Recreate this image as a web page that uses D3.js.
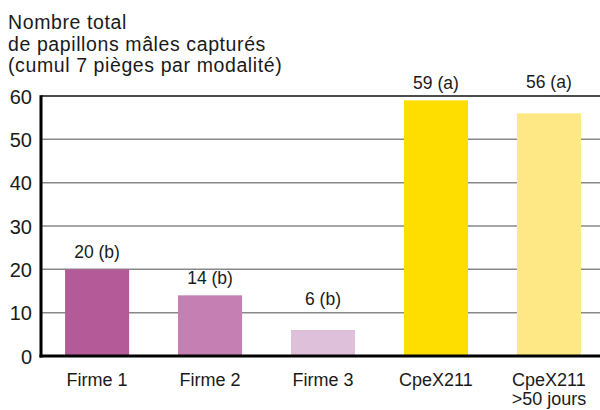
<!DOCTYPE html>
<html lang="fr">
<head>
<meta charset="utf-8">
<title>Papillons mâles capturés</title>
<script src="https://cdn.jsdelivr.net/npm/d3@7"></script>
<style>
  body { margin: 0; background: #fff; }
  text { font-family: "Liberation Sans", Arial, sans-serif; fill: #1a1a1a; }
</style>
</head>
<body>
<script>
  var categories = ["Firme 1", "Firme 2", "Firme 3", "CpeX211", "CpeX211\n>50 jours"];
  var values = [20, 14, 6, 59, 56];
  var valueLabels = ["20 (b)", "14 (b)", "6 (b)", "59 (a)", "56 (a)"];
  var barColors = ["#b55a98", "#c57fb3", "#dfc0da", "#fedd00", "#fee885"];
  var yTicks = [0, 10, 20, 30, 40, 50, 60];
  var titleLines = ["Nombre total", "de papillons mâles capturés", "(cumul 7 pièges par modalité)"];

  var width = 600, height = 410;
  var x0 = 41, baseY = 356, topY = 96;

  var svg = d3.select("body").append("svg")
    .attr("width", width)
    .attr("height", height);

  var x = d3.scaleBand()
    .domain(categories)
    .range([x0, 605])
    .paddingInner(0.433)
    .paddingOuter(0.213);

  var y = d3.scaleLinear()
    .domain([0, 60])
    .range([baseY, topY]);

  // title
  svg.append("text")
    .attr("x", 8)
    .attr("y", 29)
    .style("font-size", "19.5px")
    .style("letter-spacing", "0.6px")
    .selectAll("tspan")
    .data(titleLines)
    .enter().append("tspan")
    .attr("x", 8)
    .attr("dy", function(d, i) { return i ? 21.6 : 0; })
    .text(function(d) { return d; });

  // gridlines
  svg.append("g")
    .selectAll("line")
    .data(yTicks.filter(function(d) { return d > 0; }))
    .enter().append("line")
    .attr("x1", x0).attr("x2", width)
    .attr("y1", function(d) { return y(d); })
    .attr("y2", function(d) { return y(d); })
    .attr("stroke", function(d) { return d === 60 ? "#111" : "#888"; })
    .attr("stroke-width", 1.5);

  // bars
  svg.append("g")
    .selectAll("rect")
    .data(values)
    .enter().append("rect")
    .attr("x", function(d, i) { return x(categories[i]); })
    .attr("width", x.bandwidth())
    .attr("y", function(d) { return y(d); })
    .attr("height", function(d) { return y(0) - y(d); })
    .attr("fill", function(d, i) { return barColors[i]; });

  // value labels, lifted above a gridline when they would cross it
  function labelY(v) {
    var base = y(v) - 11;
    yTicks.forEach(function(t) {
      var gy = y(t);
      if (t > v && gy > base - 14 && gy < base + 4) base = gy - 8;
    });
    return base;
  }

  svg.append("g")
    .selectAll("text")
    .data(values)
    .enter().append("text")
    .attr("x", function(d, i) { return x(categories[i]) + x.bandwidth() / 2; })
    .attr("y", labelY)
    .attr("text-anchor", "middle")
    .style("font-size", "17.5px")
    .text(function(d, i) { return valueLabels[i]; });

  // y axis
  var yAxis = d3.axisLeft(y).tickValues(yTicks).tickSize(0).tickPadding(9);
  var gy = svg.append("g")
    .attr("transform", "translate(" + x0 + ",0)")
    .call(yAxis);
  gy.select(".domain").remove();
  gy.selectAll("text")
    .style("font-size", "20px")
    .style("font-family", "'Liberation Sans', Arial, sans-serif")
    .attr("x", -9)
    .attr("dy", "0.36em");

  // axis lines
  svg.append("line")
    .attr("x1", x0).attr("x2", x0)
    .attr("y1", y(60) - 0.75).attr("y2", baseY + 1.5)
    .attr("stroke", "#000").attr("stroke-width", 3);
  svg.append("line")
    .attr("x1", x0 - 1.5).attr("x2", width)
    .attr("y1", baseY).attr("y2", baseY)
    .attr("stroke", "#000").attr("stroke-width", 3);

  // category labels
  var cat = svg.append("g")
    .selectAll("text")
    .data(categories)
    .enter().append("text")
    .attr("text-anchor", "middle")
    .attr("y", 386)
    .style("font-size", "18px");
  cat.selectAll("tspan")
    .data(function(d) {
      var cx = x(d) + x.bandwidth() / 2;
      return d.split("\n").map(function(t) { return { t: t, cx: cx }; });
    })
    .enter().append("tspan")
    .attr("x", function(d) { return d.cx; })
    .attr("dy", function(d, i) { return i ? 18.5 : 0; })
    .text(function(d) { return d.t; });
</script>
</body>
</html>
